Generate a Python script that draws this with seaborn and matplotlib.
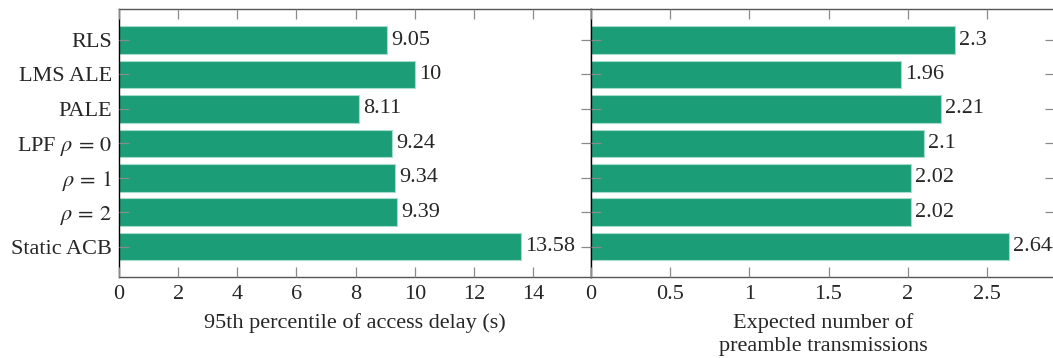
import matplotlib
matplotlib.use("Agg")
import matplotlib.pyplot as plt
import seaborn as sns
import pandas as pd

# Schemes and their measured performance
schemes = ["RLS", "LMS ALE", "PALE", r"LPF $\rho\,=\,0$", r"$\rho\,=\,1$", r"$\rho\,=\,2$", "Static ACB"]
delay_95 = [9.05, 10, 8.11, 9.24, 9.34, 9.39, 13.58]
preamble_tx = [2.3, 1.96, 2.21, 2.1, 2.02, 2.02, 2.64]

delay_ticks = [0, 2, 4, 6, 8, 10, 12, 14]
tx_ticks = [0, 0.5, 1, 1.5, 2, 2.5]
tx_tick_labels = ["0", "0.5", "1", "1.5", "2", "2.5"]

df = pd.DataFrame({"scheme": schemes, "delay": delay_95, "tx": preamble_tx})

sns.set_theme(style="white")
plt.rcParams["font.family"] = ["Liberation Serif", "DejaVu Serif"]
plt.rcParams["mathtext.fontset"] = "stix"
FS = 16

bar_color = "#1b9e77"
edge_color = "#a6dccb"

W, H = 1053, 358
fig = plt.figure(figsize=(W / 100, H / 100), dpi=100)
bottom = 1 - 277 / H
height = (277 - 9) / H
ax1 = fig.add_axes([119 / W, bottom, (591 - 119) / W, height])
ax2 = fig.add_axes([591 / W, bottom, (1055 - 591) / W, height])


def style(ax):
    ax.set_axisbelow(False)
    ax.tick_params(axis="both", which="major", direction="in", length=7.5,
                   width=0.9, color="#8a8a8a", labelsize=FS, pad=4,
                   top=True, right=True, bottom=True, left=True)
    ax.tick_params(axis="x", pad=6)
    for side in ["top", "bottom", "right"]:
        ax.spines[side].set_color("#555555")
        ax.spines[side].set_linewidth(1.0)
    ax.spines["left"].set_color("black")
    ax.spines["left"].set_linewidth(1.0)
    ax.set_ylabel("")


sns.barplot(data=df, x="delay", y="scheme", color=bar_color, width=0.8,
            edgecolor=edge_color, linewidth=0.8, saturation=1, ax=ax1)
sns.barplot(data=df, x="tx", y="scheme", color=bar_color, width=0.8,
            edgecolor=edge_color, linewidth=0.8, saturation=1, ax=ax2)

for ax in (ax1, ax2):
    style(ax)
    ax.set_ylim(6.88, -0.9)
    ax.bar_label(ax.containers[0], fmt="%g", padding=3, fontsize=FS)

ax1.set_xlim(0, 15.96)
ax1.set_xticks(delay_ticks)
ax1.set_xticklabels([str(t) for t in delay_ticks])
ax1.set_xlabel("95th percentile of access delay (s)", fontsize=FS, labelpad=6)
ax1.tick_params(axis="y", labelsize=FS, pad=5)

ax2.set_xlim(0, 2.93)
ax2.set_xticks(tx_ticks)
ax2.set_xticklabels(tx_tick_labels)
ax2.set_yticklabels([])
ax2.set_xlabel("Expected number of\npreamble transmissions", fontsize=FS,
               labelpad=6, linespacing=1.3)

fig.savefig("out.png", dpi=100)
